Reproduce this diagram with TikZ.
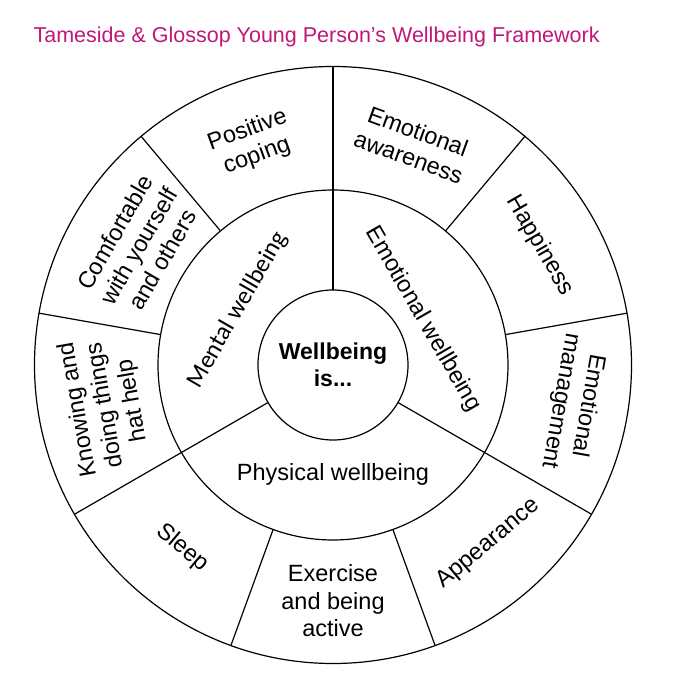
\documentclass[tikz,border=0pt]{standalone}
\usepackage{fontspec}
\setmainfont{Liberation Sans}
\newfontfamily\calib{Carlito}
\definecolor{titlemag}{RGB}{192,24,122}
\begin{document}
\begin{tikzpicture}[x=1pt,y=1pt, line width=1.2pt,
  lbl/.style={align=center, font=\fontsize{23.5}{27.5}\selectfont, inner sep=0pt},
  ring/.style={draw=black, line width=1.2pt}]
\useasboundingbox (-333,-316) rectangle (353,365);
\fill[white] (-333,-316) rectangle (353,365);
% circles
\draw[ring] (0,0) circle (298.5);
\draw[ring] (0,0) circle (175);
\draw[ring] (0,0) circle (75);
% dividers
\foreach \a in {90,210,330} \draw[ring] (\a:75) -- (\a:298.5);
\foreach \a in {10,50,130,170,250,290} \draw[ring] (\a:175) -- (\a:298.5);
% title
\node[anchor=base west, inner sep=0pt, text=titlemag, font=\fontsize{21.5}{25}\selectfont] (title) at (-300,322) {Tameside \& Glossop Young Person’s Wellbeing Framework};
% centre
\node[lbl, font=\bfseries\fontsize{23}{27}\selectfont] (core) at (0,0) {Wellbeing\\is...};
% inner ring
\node[lbl, font=\calib\fontsize{25}{28}\selectfont, rotate=60] (mental) at (150:110) {Mental wellbeing};
\node[lbl, rotate=-60] (emotional) at (27:101) {Emotional wellbeing};
\node[lbl] (physical) at (270:109) {Physical wellbeing};
% outer ring
\node[lbl, rotate=20] (poscop) at (110:236) {Positive\\coping};
\node[lbl, rotate=-20] (emoaw) at (70:235) {Emotional\\awareness};
\node[lbl, rotate=-60] (happy) at (30:239) {Happiness};
\node[lbl, rotate=-100] (emoman) at (-9:244) {Emotional\\management};
\node[lbl, rotate=40] (appear) at (311:237) {Appearance};
\node[lbl] (exercise) at (270:236) {Exercise\\and being\\active};
\node[lbl, rotate=-40] (sleep) at (230.6:237) {Sleep};
\node[lbl, rotate=100] (knowing) at (190:231) {Knowing and\\doing things\\hat help};
\node[lbl, rotate=60] (comfort) at (148.5:228) {Comfortable\\with yourself\\and others};
\end{tikzpicture}
\end{document}
